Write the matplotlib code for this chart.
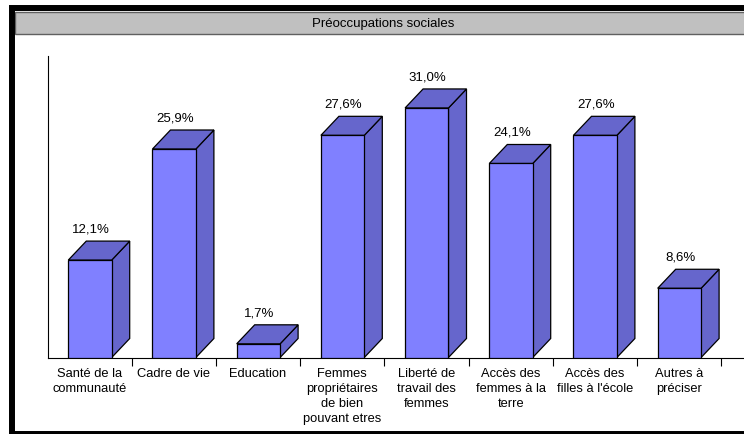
"""Préoccupations sociales: 3D-style bar chart."""

import matplotlib
matplotlib.use("Agg")
import matplotlib.pyplot as plt
from matplotlib.patches import Polygon, Rectangle

plt.rcParams["font.family"] = ["Liberation Sans", "DejaVu Sans"]

# data
categories = [
    "Santé de la\ncommunauté",
    "Cadre de vie",
    "Education",
    "Femmes\npropriétaires\nde bien\npouvant etres",
    "Liberté de\ntravail des\nfemmes",
    "Accès des\nfemmes à la\nterre",
    "Accès des\nfilles à l'école",
    "Autres à\npréciser",
]
values = [12.1, 25.9, 1.7, 27.6, 31.0, 24.1, 27.6, 8.6]
value_labels = ["12,1%", "25,9%", "1,7%", "27,6%", "31,0%", "24,1%", "27,6%", "8,6%"]
title = "Préoccupations sociales"

W, H = 744, 435
FRONT = "#8080ff"
SHADE = "#6666cc"


def fx(px):
    return px / W


def fy(py):
    return 1 - py / H


fig = plt.figure(figsize=(W / 100, H / 100), dpi=100)
fig.patch.set_facecolor("white")

# layout in pixels
cat_w = 84.2          # pixels per category
px_per_pct = 8.05     # pixels per percent
left_px, base_px, top_px = 47.5, 358.5, 57

ax = fig.add_axes([fx(left_px), fy(base_px), fx(W - left_px), (base_px - top_px) / H])
ax.set_xlim(-0.5, -0.5 + (W - left_px) / cat_w)
ax.set_ylim(0, (base_px - top_px) / px_per_pct)
ax.set_facecolor("none")
for s in ("top", "right"):
    ax.spines[s].set_visible(False)
for s in ("left", "bottom"):
    ax.spines[s].set_linewidth(0.8)
    ax.spines[s].set_color("black")
ax.set_yticks([])

# 3D bar geometry in data units
f_left, f_w = 0.253, 43.4 / cat_w
dx, dy = 18 / cat_w, 19 / px_per_pct

for i, (v, lab) in enumerate(zip(values, value_labels)):
    x0 = i - f_left
    x1 = x0 + f_w
    front = Rectangle((x0, 0), f_w, v, facecolor=FRONT, edgecolor="black", lw=0.9, zorder=3)
    top = Polygon([(x0, v), (x1, v), (x1 + dx, v + dy), (x0 + dx, v + dy)],
                  closed=True, facecolor=SHADE, edgecolor="black", lw=0.9, zorder=3)
    side = Polygon([(x1, 0), (x1 + dx, dy), (x1 + dx, v + dy), (x1, v)],
                   closed=True, facecolor=SHADE, edgecolor="black", lw=0.9, zorder=3)
    ax.add_patch(side)
    ax.add_patch(top)
    ax.add_patch(front)
    ax.text(i + 0.015, v + dy + 12.5 / px_per_pct, lab, ha="center", va="center",
            fontsize=9.5, color="black", zorder=4)

# category boundaries as ticks, names as minor tick labels
n = len(categories)
ax.set_xticks([i + 0.5 for i in range(n)])
ax.set_xticklabels([])
ax.tick_params(axis="x", which="major", direction="out", length=6, width=0.8, color="black")
ax.set_xticks(range(n), minor=True)
ax.set_xticklabels(categories, minor=True, fontsize=9.3)
ax.tick_params(axis="x", which="minor", length=0, pad=7)
for t in ax.get_xticklabels(minor=True):
    t.set_linespacing(1.33)

# frame and title band
fig.add_artist(Rectangle((fx(15), fy(34.5)), fx(760 - 15), (34.5 - 12.5) / H,
                         transform=fig.transFigure, facecolor="#c0c0c0",
                         edgecolor="#606060", lw=1.0))
fig.add_artist(Rectangle((fx(12), fy(435)), fx(760 - 12), (435 - 9) / H,
                         transform=fig.transFigure, facecolor="none",
                         edgecolor="black", lw=4.3))
fig.text(fx(383), fy(23.5), title, ha="center", va="center", fontsize=9.5)

fig.savefig("out.png", dpi=100)
